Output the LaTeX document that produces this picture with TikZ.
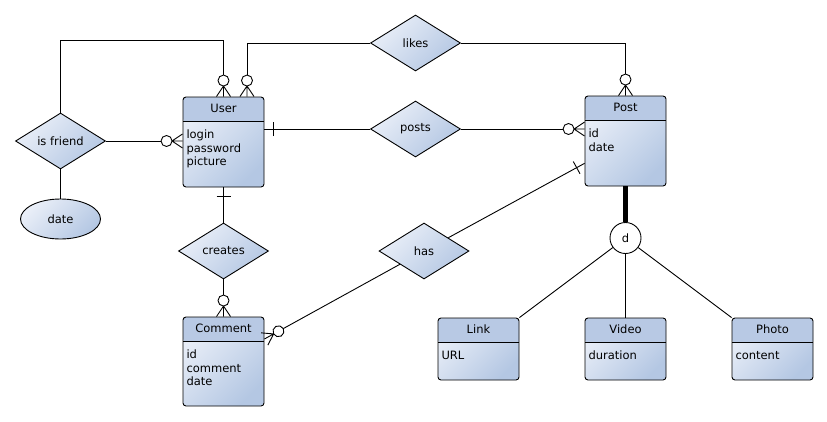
\documentclass[tikz,border=0pt]{standalone}
\usepackage{fontspec}
\setmainfont{DejaVu Sans}
\usetikzlibrary{shapes.geometric,positioning}
\definecolor{headblue}{RGB}{184,201,228}
\definecolor{bodylight}{RGB}{234,239,248}
\definecolor{bodyblue}{RGB}{180,199,227}
% crow's foot tips
\pgfdeclarearrow{
  name = zeromany,
  setup code = {
    \pgfarrowssettipend{0pt}
    \pgfarrowssetlineend{-21pt}
    \pgfarrowssetbackend{-22pt}
    \pgfarrowssetvisualbackend{-22pt}
    \pgfarrowshullpoint{0pt}{7pt}
    \pgfarrowshullpoint{0pt}{-7pt}
    \pgfarrowshullpoint{-22pt}{0pt}
  },
  drawing code = {
    \pgfpathmoveto{\pgfqpoint{0pt}{7pt}}
    \pgfpathlineto{\pgfqpoint{-10.5pt}{0pt}}
    \pgfpathlineto{\pgfqpoint{0pt}{-7pt}}
    \pgfpathmoveto{\pgfqpoint{0pt}{0pt}}
    \pgfpathlineto{\pgfqpoint{-10.5pt}{0pt}}
    \pgfusepathqstroke
    \pgfpathcircle{\pgfqpoint{-16pt}{0pt}}{5.5pt}
    \pgfsetfillcolor{white}
    \pgfusepathqfillstroke
  }
}
\pgfdeclarearrow{
  name = onebar,
  setup code = {
    \pgfarrowssettipend{0pt}
    \pgfarrowssetlineend{0pt}
    \pgfarrowssetbackend{-9pt}
    \pgfarrowssetvisualbackend{-9pt}
    \pgfarrowshullpoint{-9pt}{7pt}
    \pgfarrowshullpoint{-9pt}{-7pt}
    \pgfarrowshullpoint{0pt}{0pt}
  },
  drawing code = {
    \pgfpathmoveto{\pgfqpoint{-9pt}{7pt}}
    \pgfpathlineto{\pgfqpoint{-9pt}{-7pt}}
    \pgfusepathqstroke
  }
}
\tikzset{
  every node/.style={font=\fontsize{11.5}{13.5}\selectfont},
  grad/.style={top color=bodylight, bottom color=bodyblue, shading angle=45},
  entity/.style={rectangle, draw, rounded corners=3pt, grad, minimum width=81pt, inner sep=0pt,
    path picture={
      \fill[headblue] (path picture bounding box.north west) rectangle ([yshift=-24.5pt]path picture bounding box.north east);
      \draw ([yshift=-24.5pt]path picture bounding box.north west) -- ([yshift=-24.5pt]path picture bounding box.north east);}},
  title/.style={inner sep=0pt},
  attrs/.style={anchor=north west, align=left, inner sep=0pt},
  rel/.style={diamond, draw, grad, minimum width=90pt, minimum height=56pt, aspect=1.6, inner sep=0pt},
  prop/.style={ellipse, draw, grad, minimum width=80pt, minimum height=40pt, inner sep=0pt},
  disc/.style={circle, draw, fill=white, minimum size=31pt, inner sep=0pt}
}
\begin{document}
\begin{tikzpicture}[x=1pt, y=-1pt, line width=0.9pt]
\useasboundingbox (0,0) rectangle (827,421);
% entities
\node[entity, minimum height=90pt] (user) at (223.5,142) {};
\node[title] (user-t) at ([yshift=-12pt]user.north) {User};
\node[attrs] (user-a) at ([xshift=3.5pt,yshift=-33pt]user.north west) {login\\password\\picture};
\node[entity, minimum height=90pt] (post) at (625.5,141) {};
\node[title] (post-t) at ([yshift=-12pt]post.north) {Post};
\node[attrs] (post-a) at ([xshift=3.5pt,yshift=-33pt]post.north west) {id\\date};
\node[entity, minimum height=89pt] (comment) at (223.5,361.5) {};
\node[title] (comment-t) at ([yshift=-12pt]comment.north) {Comment};
\node[attrs] (comment-a) at ([xshift=3.5pt,yshift=-33pt]comment.north west) {id\\comment\\date};
\node[entity, minimum height=62pt] (link) at (478.5,349) {};
\node[title] (link-t) at ([yshift=-12pt]link.north) {Link};
\node[attrs] (link-a) at ([xshift=3.5pt,yshift=-33pt]link.north west) {URL};
\node[entity, minimum height=62pt] (video) at (625.5,349) {};
\node[title] (video-t) at ([yshift=-12pt]video.north) {Video};
\node[attrs] (video-a) at ([xshift=3.5pt,yshift=-33pt]video.north west) {duration};
\node[entity, minimum height=62pt] (photo) at (772.5,349) {};
\node[title] (photo-t) at ([yshift=-12pt]photo.north) {Photo};
\node[attrs] (photo-a) at ([xshift=3.5pt,yshift=-33pt]photo.north west) {content};
% relationships
\node[rel] (likes) at (415.5,43) {likes};
\node[rel] (posts) at (415.5,129) {posts};
\node[rel] (friend) at (60.5,141) {is friend};
\node[rel] (creates) at (223.5,251) {creates};
\node[rel] (has) at (424,251) {has};
\node[prop] (date) at (60.5,219) {date};
\node[disc] (spec) at (625.5,238) {d};
% connectors
\draw[-zeromany] (friend.north) -- ++(0,-72) -| (user.north);
\draw[-zeromany] (likes.west) -| ([xshift=23.5pt]user.north);
\draw[-zeromany] (likes.east) -| (post.north);
\draw[onebar-] (posts.west -| user.east) -- (posts.west);
\draw[-zeromany] (posts.east) -- (posts.east -| post.west);
\draw[-zeromany] (friend.east) -- (friend.east -| user.west);
\draw (friend.south) -- (date.north);
\draw[onebar-] (user.south) -- (creates.north);
\draw[-zeromany] (creates.south) -- (comment.north);
\draw[zeromany-] (comment) -- (has);
\draw[-onebar] (has) -- (post);
\draw[line width=4.5pt] (post.south) -- (spec.north);
\draw (spec) -- (link.north east);
\draw (spec) -- (video.north);
\draw (spec) -- (photo.north west);
\end{tikzpicture}
\end{document}
